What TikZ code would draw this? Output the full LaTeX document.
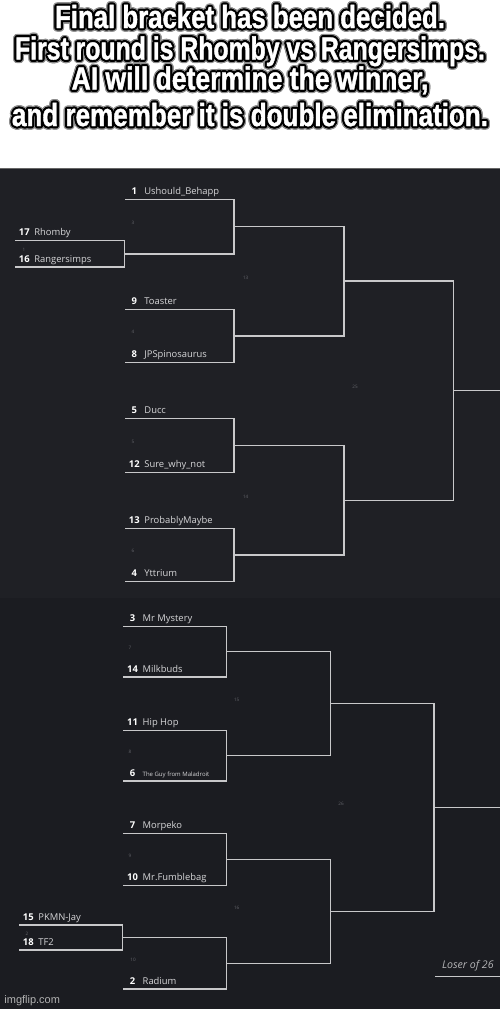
\documentclass[tikz,border=0pt]{standalone}
\usepackage{graphicx}
\usepackage{fontspec}
\setmainfont{Open Sans}
\newfontfamily\memefont[FakeStretch=0.775,FakeBold=1.2]{Liberation Sans}
\newfontfamily\markfont{Liberation Sans}
\usetikzlibrary{positioning}
\definecolor{panelA}{RGB}{31,32,37}
\definecolor{panelB}{RGB}{27,28,33}
\definecolor{bracketline}{RGB}{200,200,202}
\definecolor{nametext}{RGB}{214,214,216}
\definecolor{matchtext}{RGB}{100,101,107}
\tikzstyle{bracket}=[draw=bracketline, line width=0.75pt]
\tikzstyle{seed}=[anchor=base, inner sep=0pt, text=white, font=\fontsize{4.7}{5}\selectfont\bfseries]
\tikzstyle{player}=[anchor=base west, inner sep=0pt, text=nametext, font=\fontsize{4.7}{5}\selectfont]
\tikzstyle{matchno}=[inner sep=0pt, text=matchtext, font=\fontsize{2.3}{2.5}\selectfont]
\tikzstyle{caption}=[anchor=base, inner sep=0pt, font=\memefont\bfseries\fontsize{16}{16}\selectfont]
\tikzstyle{loser}=[anchor=south east, inner sep=0pt, text=nametext!85!black, font=\fontsize{5.3}{5.5}\selectfont\itshape]
% white meme text with a dark rim, #1 = horizontal scale
\newcommand\glowtext[2]{%
  \setbox0=\hbox{\scalebox{#1}[1]{\color{white}#2}}%
  \setbox2=\hbox{\scalebox{#1}[1]{\color{black}#2}}%
  \setbox4=\hbox{\scalebox{#1}[1]{\color{black!45}#2}}%
  \foreach \a in {0,22.5,...,337.5}{%
    \pgfmathsetlengthmacro\gx{1.7pt*cos(\a)}\pgfmathsetlengthmacro\gy{1.7pt*sin(\a)}%
    \rlap{\kern\gx\raise\gy\copy4}}%
  \foreach \a in {0,22.5,...,337.5}{%
    \pgfmathsetlengthmacro\gx{1.0pt*cos(\a)}\pgfmathsetlengthmacro\gy{1.0pt*sin(\a)}%
    \rlap{\kern\gx\raise\gy\copy2}}%
  \box0}

\begin{document}
\begin{tikzpicture}[x=0.5pt,y=-0.5pt]
\useasboundingbox (0,0) rectangle (500,1009);
\fill[white] (0,0) rectangle (500,168);
\fill[panelA] (0,168) rectangle (500,597.5);
\fill[panelB] (0,597.5) rectangle (500,1009);
\draw[black!60, line width=0.5pt] (0,168.2) -- (500,168.2);

\node[caption] (cap1) at (250,28) {\glowtext{1.04}{Final bracket has been decided.}};
\node[caption] (cap2) at (250,59.5) {\glowtext{1}{First round is Rhomby vs Rangersimps.}};
\node[caption] (cap3) at (250,89.5) {\glowtext{1.07}{AI will determine the winner,}};
\node[caption] (cap4) at (250,126) {\glowtext{1.05}{and remember it is double elimination.}};

% players: seed / start of line
\foreach \s/\x/\y/\nm in {17/15/240.7/Rhomby, 16/15/267/Rangersimps,
    1/125/199.3/Ushould\_Behapp, 9/125/309.3/Toaster, 8/125/362.7/JPSpinosaurus,
    5/125/418.7/Ducc, 12/125/472.3/Sure\_why\_not, 13/125/528.3/ProbablyMaybe,
    4/125/581.7/Yttrium, 3/123.3/626.3/Mr Mystery, 14/123.3/677/Milkbuds,
    11/123.3/730.3/Hip Hop, 6/123.3/781/{\fontsize{3}{3}\selectfont The Guy from Maladroit},
    7/123.3/833.7/Morpeko, 10/123.3/885.3/Mr.Fumblebag, 15/19/925/PKMN-Jay,
    18/19/950/TF2, 2/123.3/989/Radium}{
  \coordinate (p\s) at (\x,\y);
  \node[seed, xshift=4.65pt, yshift=2.5pt] (s\s) at (p\s) {\s};
  \node[player, xshift=9.5pt, yshift=2.5pt] (n\s) at (p\s) {\nm};
}

% matches: number / x of join / y of join / x of label
\foreach \m/\x/\y/\lx in {1/124.7/253.8/24, 3/234/226.3/133, 4/234/336/133,
    5/234/445.5/133, 6/234/555/133, 13/344/281.2/245.7, 14/344/500.3/245.7,
    25/453.3/390.7/355, 2/122.7/937.5/27, 7/226.7/651.7/130, 8/226.7/755.7/130,
    9/226.7/859.5/130, 10/226.7/963.3/133, 15/330.3/703.7/236.7,
    16/330.3/911.4/236.7, 26/434/807.5/341}{
  \coordinate (m\m) at (\x,\y);
  \node[matchno, yshift=1.85pt] (l\m) at (\lx,\y) {\m};
}

\foreach \a/\b in {p17/m1, p16/m1, p1/m3, m1/m3, p9/m4, p8/m4, p5/m5, p12/m5,
    p13/m6, p4/m6, m3/m13, m4/m13, m5/m14, m6/m14, m13/m25, m14/m25,
    p15/m2, p18/m2, p3/m7, p14/m7, p11/m8, p6/m8, p7/m9, p10/m9, m2/m10, p2/m10,
    m7/m15, m8/m15, m9/m16, m10/m16, m15/m26, m16/m26}
  \draw[bracket] (\a) -| (\b);

\coordinate (w25) at (500,390.7);
\coordinate (w26) at (500,807.5);
\draw[bracket] (m25) -- (w25);
\draw[bracket] (m26) -- (w26);

\coordinate (lose26a) at (435,976.7);
\coordinate (lose26b) at (500,976.7);
\draw[bracket] (lose26a) -- (lose26b);
\node[loser, above left=2.5pt and 3pt of lose26b] (lose26) {Loser of 26};

\node[anchor=base west, inner sep=0pt, text=black!30, font=\markfont\fontsize{5.5}{6}\selectfont] (imgflip) at (4,1003) {imgflip.com};
\end{tikzpicture}
\end{document}
